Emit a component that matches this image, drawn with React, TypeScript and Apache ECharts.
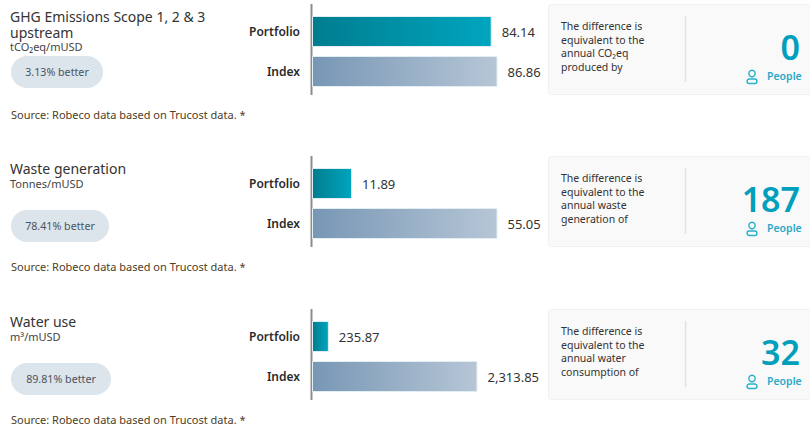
import React, { useEffect, useRef } from "react";
import * as echarts from "echarts";

const categories = ["Portfolio", "Index"];
const titles = [["GHG Emissions Scope 1, 2 & 3", "upstream"], ["Waste generation"], ["Water use"]];
const units = ["tCO₂eq/mUSD", "Tonnes/mUSD", "m³/mUSD"];
const better = ["3.13% better", "78.41% better", "89.81% better"];
const portfolioValues = [84.14, 11.89, 235.87];
const indexValues = [86.86, 55.05, 2313.85];
const axisMax = [86.86, 55.05, 2594];
const people = ["0", "187", "32"];
const descriptions = [
  ["The difference is", "equivalent to the", "annual CO₂eq", "produced by"],
  ["The difference is", "equivalent to the", "annual waste", "generation of"],
  ["The difference is", "equivalent to the", "annual water", "consumption of"],
];
const source = "Source: Robeco data based on Trucost data. *";
const font = "'Noto Sans', sans-serif";
const rowTops = [4, 156, 309];
const pillWidths = [92, 98, 100];

const grad = (a: string, b: string) =>
  new echarts.graphic.LinearGradient(0, 0, 1, 0, [
    { offset: 0, color: a },
    { offset: 1, color: b },
  ]);

const txt = (x: number, y: number, text: string, size: number, fill: string, extra: any = {}) => ({
  type: "text",
  x,
  y,
  silent: true,
  style: { text, fontFamily: font, fontSize: size, lineHeight: size, fill, textVerticalAlign: "middle", ...extra },
});

export default function App() {
  const ref = useRef<HTMLDivElement>(null);
  useEffect(() => {
    const chart = echarts.init(ref.current!, null, { renderer: "svg" });
    const grid: any[] = [];
    const xAxis: any[] = [];
    const yAxis: any[] = [];
    const series: any[] = [];
    const graphic: any[] = [];
    rowTops.forEach((top, i) => {
      grid.push({ left: 312, width: 185.5, top: top + 7.5, height: 80 });
      xAxis.push({ gridIndex: i, type: "value", min: 0, max: axisMax[i], show: false });
      yAxis.push({
        gridIndex: i,
        type: "category",
        inverse: true,
        data: categories,
        axisLine: { show: false },
        axisTick: { show: false },
        axisLabel: {
          fontFamily: font,
          fontWeight: 600,
          fontSize: 12,
          color: "#2b2b2b",
          margin: 12,
          padding: [0, 0, 4, 0],
        },
      });
      series.push({
        type: "bar",
        xAxisIndex: i,
        yAxisIndex: i,
        barWidth: 31,
        data: [
          { value: portfolioValues[i], itemStyle: { color: grad("#007d8f", "#00a5bf") } },
          { value: indexValues[i], itemStyle: { color: grad("#7897b5", "#b6c6d6") } },
        ],
        itemStyle: { borderColor: "#e3eef2", borderWidth: 1 },
        label: {
          show: true,
          position: "right",
          distance: 10,
          fontFamily: font,
          fontSize: 13,
          color: "#333333",
          formatter: (p: any) =>
            p.value.toLocaleString("en-US", { minimumFractionDigits: 2, maximumFractionDigits: 2 }),
        },
      });

      // vertical axis rule
      graphic.push({
        type: "line",
        silent: true,
        shape: { x1: 311.5, y1: top, x2: 311.5, y2: top + 91 },
        style: { stroke: "#8c8c8c", lineWidth: 2 },
      });

      // left column
      titles[i].forEach((l, k) => graphic.push(txt(10, top + 12 + k * 16, l, 14, "#333333")));
      const unitY = i === 0 ? top + 42 : top + 27;
      graphic.push(txt(10, unitY, units[i], 11, "#444444"));
      const pillTop = i === 0 ? top + 52 : top + 54;
      graphic.push({
        type: "rect",
        silent: true,
        shape: { x: 11, y: pillTop, width: pillWidths[i], height: 32, r: 16 },
        style: { fill: "#dce4ec" },
      });
      graphic.push(
        txt(11 + pillWidths[i] / 2, pillTop + 16, better[i], 10.7, "#4a5560", { textAlign: "center" })
      );
      graphic.push(txt(11, top + 110, source, 11, "#4d3d24"));

      // right card
      graphic.push({
        type: "rect",
        silent: true,
        shape: { x: 548.5, y: top + 0.5, width: 262, height: 90, r: 2 },
        style: { fill: "#f9f9f9", stroke: "#f1f1f1", lineWidth: 1 },
      });
      graphic.push({
        type: "line",
        silent: true,
        shape: { x1: 685.5, y1: top + 12, x2: 685.5, y2: top + 78 },
        style: { stroke: "#e2e2e2", lineWidth: 1.5 },
      });
      descriptions[i].forEach((d, k) => graphic.push(txt(561, top + 22 + k * 13.5, d, 10.5, "#333333")));
      graphic.push(
        txt(800, top + 43, people[i], 34, "#00a0bc", { textAlign: "right", fontWeight: 600 })
      );
      graphic.push(txt(767, top + 72, "People", 10.5, "#29a9c6", { fontWeight: 600 }));
      graphic.push({
        type: "circle",
        silent: true,
        shape: { cx: 752, cy: top + 69.5, r: 3.2 },
        style: { fill: "none", stroke: "#29b0cc", lineWidth: 1.4 },
      });
      graphic.push({
        type: "rect",
        silent: true,
        shape: { x: 747, y: top + 75, width: 10, height: 4.5, r: 2.2 },
        style: { fill: "none", stroke: "#29b0cc", lineWidth: 1.4 },
      });
    });
    chart.setOption({ animation: false, grid, xAxis, yAxis, series, graphic });
    return () => chart.dispose();
  }, []);
  return <div ref={ref} style={{ position: "fixed", left: 0, top: 0, width: 810, height: 427, background: "#fff" }} />;
}
